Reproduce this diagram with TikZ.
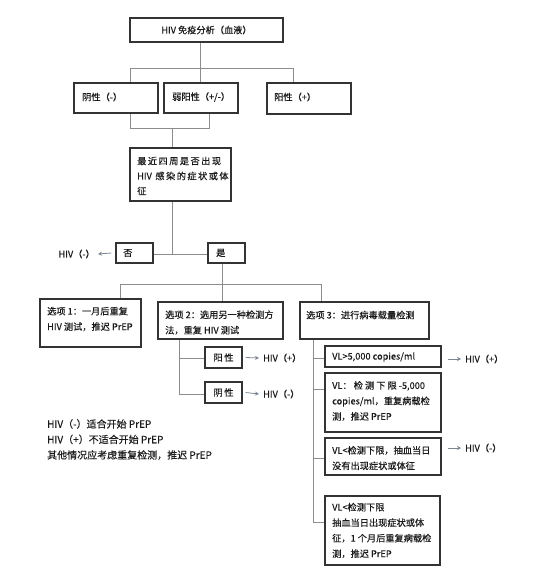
\documentclass[tikz,border=0pt]{standalone}
\usepackage{fontspec}
\setmainfont[FakeBold=0.35]{Noto Sans CJK SC}
\usetikzlibrary{arrows.meta,fit}
\definecolor{boxc}{HTML}{333333}
\definecolor{linec}{HTML}{8C8C8C}
\definecolor{arrc}{HTML}{7A8796}
\definecolor{txtc}{HTML}{1A1A1A}
\newcommand\mybox[5]{\node[box, fit={(#2,#3) (#4,#5)}] (#1) {};}
\begin{document}
\begin{tikzpicture}[x=1pt,y=-1pt,
  box/.style={draw=boxc, line width=1.1pt, inner sep=0pt},
  txt/.style={inner sep=0pt, anchor=west, font=\fontsize{9.2}{15.5}\selectfont, text=txtc, align=left},
  ctxt/.style={txt, anchor=center},
  legend/.style={txt, font=\fontsize{10}{15.5}\selectfont},
  con/.style={draw=linec, line width=0.9pt},
  arr/.style={draw=arrc, line width=0.8pt, -{Stealth[length=4pt,width=4pt]}}]
\useasboundingbox (0,0) rectangle (556,580);
% boxes
\mybox{top}{130}{18}{283}{42}
\mybox{neg}{74}{83}{158}{113}
\mybox{weak}{164}{83}{238}{113}
\mybox{pos}{267}{83}{351}{114}
\mybox{q}{130}{148}{231}{201}
\mybox{no}{116}{243}{153}{263}
\mybox{yes}{208}{243}{245}{263}
\mybox{opta}{40}{299}{141}{347}
\mybox{optb}{158}{302}{283}{339}
\mybox{optc}{300}{302}{429}{339}
\mybox{yang}{205}{347}{242}{368}
\mybox{yin}{205}{382}{242}{403}
\mybox{vla}{325}{346}{441}{367}
\mybox{vlb}{325}{373}{441}{432}
\mybox{vlc}{325}{438}{441}{475}
\mybox{vld}{325}{496}{440}{565}
% texts
\node[ctxt] (topt) at (top.center) {HIV 免疫分析（血液）};
\node[txt] (negt) at (82,97) {阴性（-）};
\node[txt] (weakt) at (172,97) {弱阳性（+/-）};
\node[txt] (post) at (274,97) {阳性（+）};
\node[txt, font=\fontsize{9.2}{15}\selectfont\addfontfeature{LetterSpace=16}] (qt) at (137,176) {最近四周是否出现\\{\addfontfeature{LetterSpace=0}HIV}\hspace{3.5pt}感染的症状或体\\征};
\node[txt] (not) at (123,253) {否};
\node[txt] (yest) at (216,253) {是};
\node[txt, anchor=east] (hivno) at (95,254) {HIV（-）};
\node[txt] (optat) at (47,319) {选项 1：一月后重复\\HIV 测试，推迟 PrEP};
\node[txt] (optbt) at (165,322.5) {选项 2：选用另一种检测方\\法，重复 HIV 测试};
\node[txt] (optct) at (306,315) {选项 3：进行病毒载量检测};
\node[ctxt] (yangt) at (yang.center) {阳\,性};
\node[ctxt] (yint) at (yin.center) {阴\,性};
\node[txt] (hivp1) at (263,358) {HIV（+）};
\node[txt] (hivn1) at (263,394) {HIV（-）};
\node[txt] (vlat) at (332,357) {VL>5,000 copies/ml};
\node[txt] (vlbt) at (332,401) {VL： 检 测 下 限 -5,000\\copies/ml，重复病载检\\测，推迟 PrEP};
\node[txt] (vlct) at (332,458) {VL<检测下限，抽血当日\\没有出现症状或体征};
\node[txt] (vldt) at (332,530.5) {VL<检测下限\\抽血当日出现症状或体\\征，1 个月后重复病载检\\测，推迟 PrEP};
\node[txt] (hivp2) at (465,359) {HIV（+）};
\node[txt] (hivn2) at (465,448) {HIV（-）};
\node[legend] (leg) at (47,439.5) {HIV（-）适合开始 PrEP\\HIV（+）不适合开始 PrEP\\其他情况应考虑重复检测，推迟 PrEP};
% junctions
\coordinate (ja) at (200,68);
\coordinate (jal) at (130,68);
\coordinate (jar) at (293,68);
\coordinate (jbl) at (130,128);
\coordinate (jbr) at (209,128);
\coordinate (jbm) at (172,128);
\coordinate (jc) at (172,254);
\coordinate (jd) at (222,284);
\coordinate (jdl) at (120,284);
\coordinate (jdr) at (321,284);
\coordinate (je) at (179,358);
\coordinate (jee) at (179,394);
\coordinate (jf) at (313,358);
\coordinate (jf2) at (313,389);
\coordinate (jf3) at (313,458);
\coordinate (jf4) at (313,522);
% connectors
\draw[con] (ja |- top.south) -- (ja);
\draw[con] (jal) -- (jar);
\draw[con] (jal) -- (jal |- neg.north);
\draw[con] (ja) -- (ja |- weak.north);
\draw[con] (jar) -- (jar |- pos.north);
\draw[con] (jbl |- neg.south) -- (jbl) -- (jbr) -- (jbr |- weak.south);
\draw[con] (jbm) -- (jbm |- q.north);
\draw[con] (jc |- q.south) -- (jc);
\draw[con] (jc -| no.east) -- (jc -| yes.west);
\draw[con] (jd |- yes.south) -- (jd);
\draw[con] (jdl) -- (jdr);
\draw[con] (jdl) -- (jdl |- opta.north);
\draw[con] (jd) -- (jd |- optb.north);
\draw[con] (jdr) -- (jdr |- optc.north);
\draw[con] (je |- optb.south) -- (jee) -- (jee -| yin.west);
\draw[con] (je) -- (je -| yang.west);
\draw[con] (jf |- optc.south) -- (jf4) -- (jf4 -| vld.west);
\draw[con] (jf) -- (jf -| vla.west);
\draw[con] (jf2) -- (jf2 -| vlb.west);
\draw[con] (jf3) -- (jf3 -| vlc.west);
% arrows
\draw[arr] ([xshift=-4pt]no.west) -- ([xshift=3pt]hivno.east);
\draw[arr] ([xshift=3pt]yang.east) -- ([xshift=-4pt]hivp1.west);
\draw[arr] ([xshift=3pt]yin.east) -- ([xshift=-4pt]hivn1.west);
\draw[arr] ([xshift=6pt]vla.east |- hivp2.west) -- ([xshift=-4pt]hivp2.west);
\draw[arr] ([xshift=6pt]vlc.east |- hivn2.west) -- ([xshift=-4pt]hivn2.west);
\end{tikzpicture}
\end{document}
